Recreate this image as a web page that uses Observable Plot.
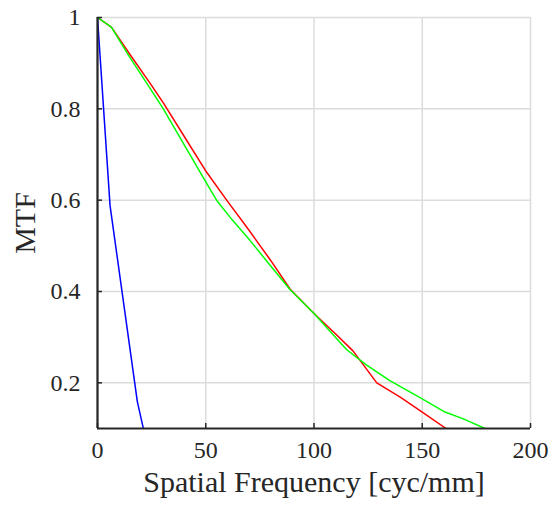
<!DOCTYPE html>
<html>
<head>
<meta charset="utf-8">
<script src="https://cdn.jsdelivr.net/npm/d3@7"></script>
<script src="https://cdn.jsdelivr.net/npm/@observablehq/plot@0.6"></script>
<style>
  html, body { margin: 0; padding: 0; background: #fff; }
  #chart svg [aria-label="x-axis label"] text,
  #chart svg [aria-label="y-axis label"] text { font-size: 30px; }
</style>
</head>
<body>
<div id="chart"></div>
<script>
// Spatial frequency [cyc/mm] and MTF values for each curve
const redFreq  = [0, 6.4, 15, 24, 30.4, 40, 50, 60, 70, 80, 89, 100, 110, 118, 129, 140, 150, 161, 170];
const redMTF   = [1, 0.979, 0.919, 0.858, 0.813, 0.740, 0.664, 0.598, 0.534, 0.468, 0.405, 0.352, 0.307, 0.270, 0.200, 0.168, 0.136, 0.100, 0.072];

const greenFreq = [0, 6.4, 15, 24, 30.4, 39, 50, 55, 62, 70.4, 80, 89, 100, 115, 124, 135, 150, 160.5, 169, 179, 185];
const greenMTF  = [1, 0.979, 0.912, 0.847, 0.800, 0.730, 0.640, 0.600, 0.558, 0.512, 0.456, 0.404, 0.352, 0.273, 0.240, 0.205, 0.165, 0.136, 0.121, 0.100, 0.085];

const blueFreq = [0, 5.8, 18.4, 24];
const blueMTF  = [1, 0.588, 0.159, 0.040];

const seriesNames  = ["s1", "s2", "s3"];
const seriesColors = ["#ff0000", "#00ff00", "#0000ff"];

const xTicks = [0, 50, 100, 150, 200];
const xTickLabels = ["0", "50", "100", "150", "200"];
const yTicks = [0.2, 0.4, 0.6, 0.8, 1];
const yTickLabels = ["0.2", "0.4", "0.6", "0.8", "1"];

const xDomain = [0, 200];
const yDomain = [0.1, 1];

const seriesData = [
  {name: "s1", f: redFreq, m: redMTF},
  {name: "s2", f: greenFreq, m: greenMTF},
  {name: "s3", f: blueFreq, m: blueMTF}
];
const rows = seriesData.flatMap(s => s.f.map((f, i) => ({series: s.name, freq: f, mtf: s.m[i]})));

const W = 551, H = 506, ML = 97, MR = 21, MT = 17, MB = 78;
const tickLen = 5;
const axisColor = "#262626";
const gridColor = "#dcdcdc";

const chart = Plot.plot({
  width: W,
  height: H,
  marginLeft: ML,
  marginRight: MR,
  marginTop: MT,
  marginBottom: MB,
  style: {
    fontFamily: "'Liberation Serif', 'Times New Roman', serif",
    fontSize: "24px",
    color: axisColor,
    background: "#fff",
    overflow: "visible"
  },
  x: {domain: xDomain},
  y: {domain: yDomain},
  color: {domain: seriesNames, range: seriesColors},
  marks: [
    Plot.gridX(xTicks, {stroke: gridColor, strokeOpacity: 1, strokeWidth: 1.5}),
    Plot.gridY(yTicks, {stroke: gridColor, strokeOpacity: 1, strokeWidth: 1.5}),
    Plot.line(rows, {x: "freq", y: "mtf", z: "series", stroke: "series", strokeWidth: 1.5, clip: true}),
    // inward tick marks
    Plot.tickX(xTicks, {x: d => d, stroke: axisColor, strokeWidth: 1.5, insetTop: (H - MT - MB) - tickLen}),
    Plot.tickY(yTicks, {y: d => d, stroke: axisColor, strokeWidth: 1.5, insetRight: (W - ML - MR) - tickLen}),
    Plot.axisX({
      ticks: xTicks,
      tickFormat: (d) => xTickLabels[xTicks.indexOf(d)],
      tickSize: 0,
      tickPadding: 12,
      fill: axisColor,
      label: "Spatial Frequency [cyc/mm]",
      labelAnchor: "center",
      labelArrow: "none",
      labelOffset: 63
    }),
    Plot.axisY({
      ticks: yTicks,
      tickFormat: (d) => yTickLabels[yTicks.indexOf(d)],
      tickSize: 0,
      tickPadding: 17,
      fill: axisColor,
      label: "MTF",
      labelAnchor: "center",
      labelArrow: "none",
      labelOffset: 84
    }),
    Plot.ruleX([xDomain[0]], {stroke: axisColor, strokeWidth: 2.2}),
    Plot.ruleY([yDomain[0]], {stroke: axisColor, strokeWidth: 2.2})
  ]
});

document.getElementById("chart").appendChild(chart);
</script>
</body>
</html>
